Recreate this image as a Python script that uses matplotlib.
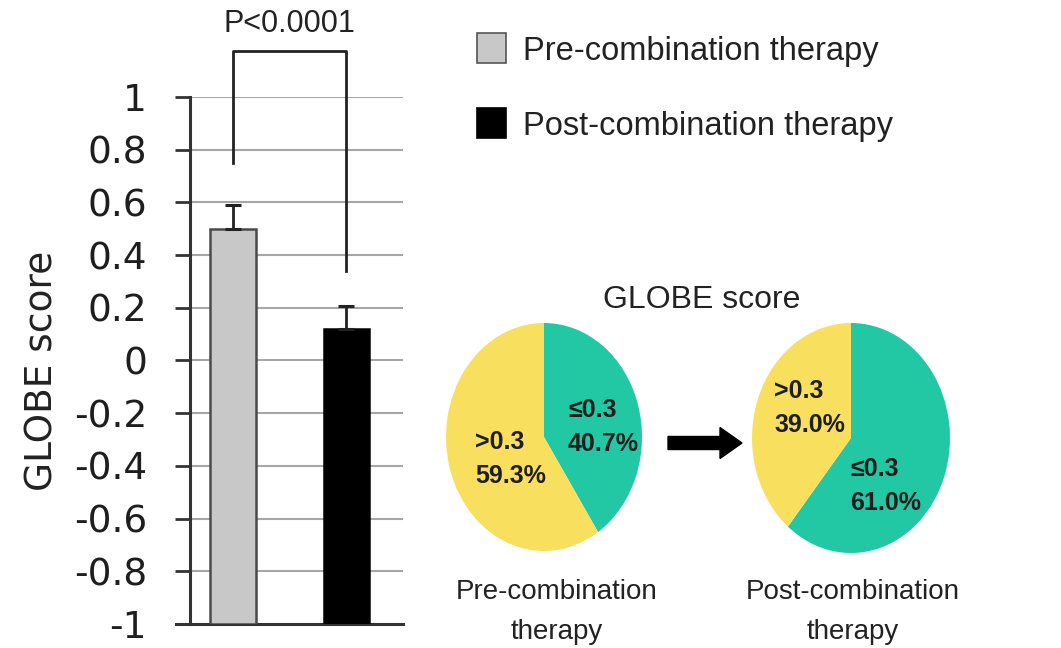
import matplotlib

matplotlib.use("Agg")
import matplotlib.pyplot as plt
from matplotlib.patches import FancyArrow

# mean GLOBE score with SEM, before / after combination therapy
groups = ["Pre-combination therapy", "Post-combination therapy"]
means = [0.50, 0.12]
sems = [0.09, 0.085]
bar_colors = ["#c8c8c8", "#000000"]
bar_edges = ["#4a4a4a", "#000000"]
y_ticks = [-1, -0.8, -0.6, -0.4, -0.2, 0, 0.2, 0.4, 0.6, 0.8, 1]
y_ticklabels = ["-1", "-0.8", "-0.6", "-0.4", "-0.2", "0", "0.2", "0.4", "0.6", "0.8", "1"]
p_label = "P<0.0001"

# share of patients by GLOBE score class
pie_classes = ["\u22640.3", ">0.3"]
pre_share = [40.7, 59.3]
post_share = [61.0, 39.0]
pie_colors = ["#22c8a4", "#f8e05e"]

W, H = 1061, 648
fig = plt.figure(figsize=(W / 100, H / 100), dpi=100)


def box(x0, y0, x1, y1):
    """pixel box (top-left origin) -> figure fraction rect"""
    return [x0 / W, 1 - y1 / H, (x1 - x0) / W, (y1 - y0) / H]


def fx(x):
    return x / W


def fy(y):
    return 1 - y / H


# ---- bar chart ----
ax = fig.add_axes(box(190, 97, 403, 624))
x = [0, 1]
bottom = y_ticks[0]
heights = [m - bottom for m in means]
ax.bar(x, heights, bottom=bottom, width=0.4, color=bar_colors, edgecolor=bar_edges,
       linewidth=1.8, zorder=3)
ax.errorbar(x, means, yerr=[[0, 0], sems], fmt="none", ecolor="#222222", elinewidth=2.0,
            capsize=6, capthick=2.2, zorder=4)
ax.set_xlim(-0.38, 1.5)
ax.set_ylim(-1, 1)
ax.set_yticks(y_ticks)
ax.set_yticklabels(y_ticklabels, fontsize=27, color="#1e1e1e")
ax.set_xticks([])
ax.tick_params(axis="y", direction="out", length=11, width=2, pad=20, color="#333333")
for yv in y_ticks[1:]:
    ax.axhline(yv, color="#a6a6a6", linewidth=1.5, zorder=1)
for side in ["top", "right"]:
    ax.spines[side].set_visible(False)
ax.spines["left"].set_linewidth(2.2)
ax.spines["left"].set_color("#333333")
ax.spines["bottom"].set_linewidth(2.2)
ax.spines["bottom"].set_color("#333333")
ax.spines["bottom"].set_bounds(-0.5, 1.5)
ax.spines["bottom"].set_clip_on(False)
ax.set_ylabel("GLOBE score", fontsize=27, color="#222222")
ax.yaxis.set_label_coords(-0.61, 0.48)

# significance bracket
top = 1.176
ax.plot([0, 0, 1, 1], [0.75, top, top, 0.34], color="#222222", linewidth=2.0,
        clip_on=False, zorder=5)
ax.text(0.5, 1.22, p_label, ha="center", va="bottom", family="Liberation Sans",
        fontsize=22, color="#222222")

# ---- legend ----
legend_font = dict(family="Liberation Sans", fontsize=23.5, color="#222222")
for i, (label, fc, ec) in enumerate(zip(groups, bar_colors, bar_edges)):
    y_mid = 48 + i * 75
    fig.patches.append(plt.Rectangle((fx(477), fy(y_mid + 15)), 29 / W, 30 / H,
                                     transform=fig.transFigure, facecolor=fc,
                                     edgecolor="#555555" if i == 0 else ec, linewidth=1.2))
    fig.text(fx(523), fy(y_mid), label, ha="left", va="center_baseline", **legend_font)

# ---- pies ----
label_font = dict(family="Liberation Sans", fontsize=18, fontweight="bold",
                  color="#1e1e1e", linespacing=1.55)


def draw_pie(rect, shares):
    pax = fig.add_axes(rect)
    pax.pie(shares, colors=pie_colors, startangle=90, counterclock=False,
            wedgeprops=dict(linewidth=0))
    pax.set_aspect("auto")
    pax.set_xlim(-1, 1)
    pax.set_ylim(-1, 1)
    return pax


draw_pie(box(446, 323, 642, 551), pre_share)
draw_pie(box(752, 323, 950, 553), post_share)

fig.text(fx(568), fy(427), f"{pie_classes[0]}\n{pre_share[0]:.1f}%", ha="left",
         va="center", **label_font)
fig.text(fx(475), fy(459), f"{pie_classes[1]}\n{pre_share[1]:.1f}%", ha="left",
         va="center", **label_font)
fig.text(fx(774), fy(408), f"{pie_classes[1]}\n{post_share[1]:.1f}%", ha="left",
         va="center", **label_font)
fig.text(fx(850), fy(486), f"{pie_classes[0]}\n{post_share[0]:.1f}%", ha="left",
         va="center", **label_font)

fig.text(fx(702), fy(300), "GLOBE score", ha="center", va="center",
         family="Liberation Sans", fontsize=23, color="#222222")

caption_font = dict(family="Liberation Sans", fontsize=20, color="#222222", linespacing=1.7)
fig.text(fx(557), fy(612), "Pre-combination\ntherapy", ha="center", va="center", **caption_font)
fig.text(fx(853), fy(612), "Post-combination\ntherapy", ha="center", va="center", **caption_font)

# arrow between pies (inch coordinates keep it undistorted)
fig.add_artist(FancyArrow(6.68, (H - 443) / 100, 0.74, 0, width=0.13, head_width=0.31,
                          head_length=0.22, length_includes_head=True,
                          color="#000000", transform=fig.dpi_scale_trans))

fig.savefig("out.png", dpi=100)
